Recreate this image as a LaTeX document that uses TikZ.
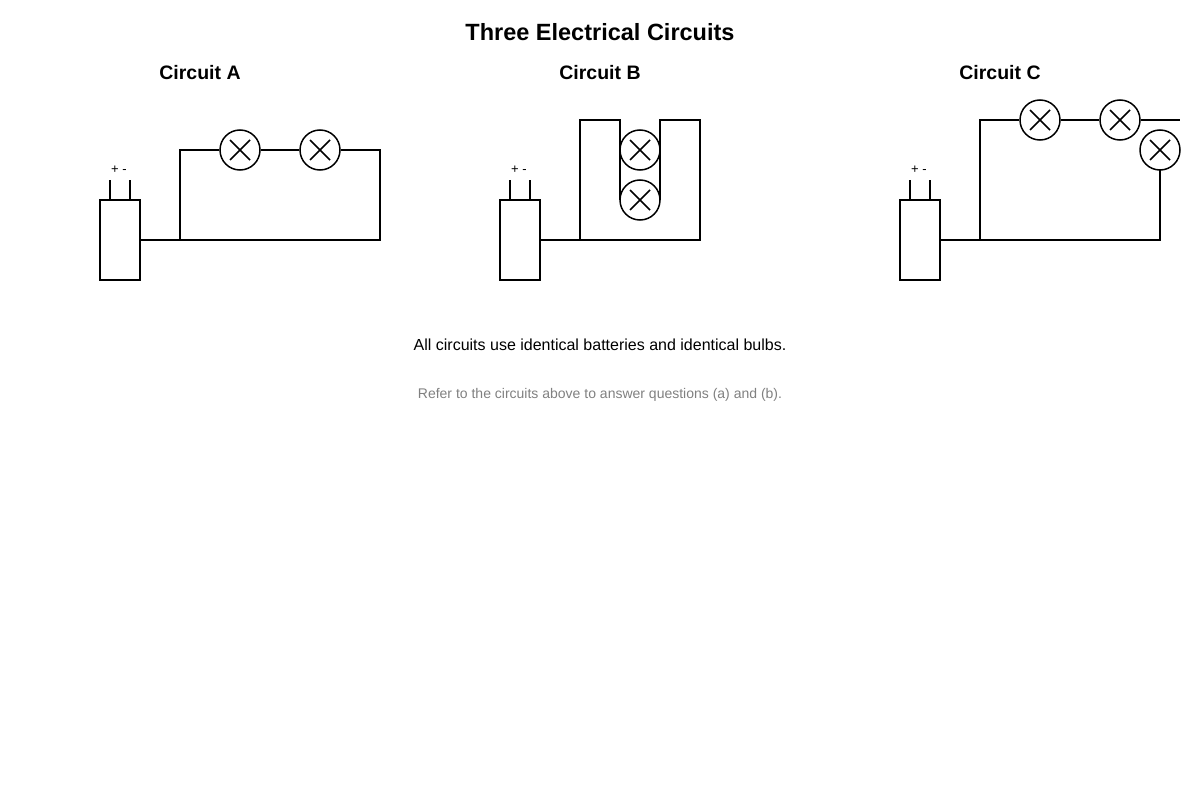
\documentclass[tikz,border=0pt]{standalone}
\usepackage{fontspec}
\setmainfont{Liberation Sans}
\begin{document}
\begin{tikzpicture}
[
    x=1pt, y=-1pt, line width=1.5pt,
    bulb/.style={draw, circle, fill=white, minimum size=40pt, inner sep=0pt,
        path picture={\draw (path picture bounding box.center) ++(-10,-10) -- ++(20,20)
            (path picture bounding box.center) ++(-10,10) -- ++(20,-20);}},
    cell/.style={draw, minimum width=40pt, minimum height=80pt, inner sep=0pt},
    heading/.style={font=\bfseries\fontsize{19.5}{22}\selectfont},
    pol/.style={font=\fontsize{13}{15}\selectfont},
]
\useasboundingbox (0,0) rectangle (1200,800);
\node[font=\bfseries\fontsize{23.5}{27}\selectfont] (title) at (600,32) {Three Electrical Circuits};

% Circuit A
\node[heading] (headA) at (200,73) {Circuit A};
\node[cell] (batA) at (120,240) {};
\draw (110,200) -- (110,180) (130,200) -- (130,180);
\node[pol] (polA) at (119,170) {+ -};
\coordinate (a1) at (140,240);
\coordinate (a2) at (180,240);
\coordinate (a3) at (180,150);
\coordinate (a4) at (380,150);
\coordinate (a5) at (380,240);
\node[bulb] (bA1) at (240,150) {};
\node[bulb] (bA2) at (320,150) {};
\draw (a1) -- (a5) -- (a4) -- (bA2) -- (bA1) -- (a3) -- (a2);

% Circuit B
\node[heading] (headB) at (600,73) {Circuit B};
\node[cell] (batB) at (520,240) {};
\draw (510,200) -- (510,180) (530,200) -- (530,180);
\node[pol] (polB) at (519,170) {+ -};
\coordinate (b1) at (540,240);
\coordinate (b2) at (580,240);
\coordinate (b3) at (580,120);
\coordinate (b4) at (620,120);
\coordinate (b5) at (620,200);
\coordinate (b6) at (660,200);
\coordinate (b7) at (660,120);
\coordinate (b8) at (700,120);
\coordinate (b9) at (700,240);
\draw (b1) -- (b9) -- (b8) -- (b7) -- (b6);
\draw (b2) -- (b3) -- (b4) -- (b5);
\node[bulb] (bB1) at (640,150) {};
\node[bulb] (bB2) at (640,200) {};

% Circuit C
\node[heading] (headC) at (1000,73) {Circuit C};
\node[cell] (batC) at (920,240) {};
\draw (910,200) -- (910,180) (930,200) -- (930,180);
\node[pol] (polC) at (919,170) {+ -};
\coordinate (c1) at (940,240);
\coordinate (c2) at (980,240);
\coordinate (c3) at (980,120);
\coordinate (c4) at (1180,120);
\coordinate (c5) at (1160,240);
\node[bulb] (bC1) at (1040,120) {};
\node[bulb] (bC2) at (1120,120) {};
\draw (c1) -- (c5) -- (1160,170);
\draw (c2) -- (c3) -- (bC1) -- (bC2) -- (c4);
\node[bulb] (bC3) at (1160,150) {};

% notes
\node[font=\fontsize{16}{18}\selectfont] (note) at (600,345) {All circuits use identical batteries and identical bulbs.};
\node[font=\fontsize{14}{16}\selectfont, text=gray] (ask) at (600,395) {Refer to the circuits above to answer questions (a) and (b).};
\end{tikzpicture}
\end{document}
